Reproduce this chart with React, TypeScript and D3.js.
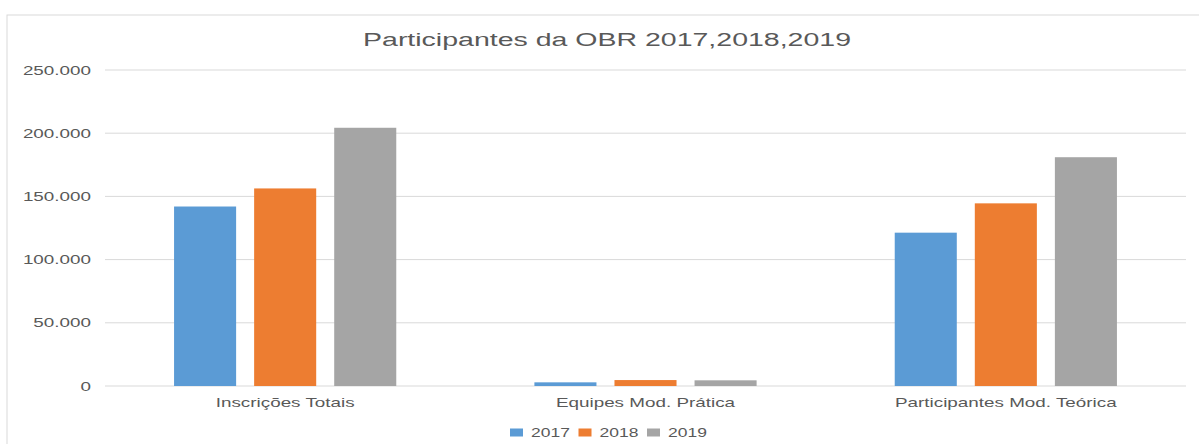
import React from "react";
import * as d3 from "d3";

const categories = ["Inscrições Totais", "Equipes Mod. Prática", "Participantes Mod. Teórica"];
const seriesNames = ["2017", "2018", "2019"];
const values2017 = [142000, 2900, 121300];
const values2018 = [156300, 4700, 144500];
const values2019 = [204300, 4500, 181000];
const yTicks = [0, 50000, 100000, 150000, 200000, 250000];
const title = "Participantes da OBR 2017,2018,2019";

const colors = ["#5B9BD5", "#ED7D31", "#A5A5A5"];
const W = 1199;
const H = 444;
const SX = 1.45; // horizontal stretch of text
const FONT = "'Liberation Sans', Arial, sans-serif";
const TEXT = "#595959";

const locale = d3.formatLocale({ decimal: ",", thousands: ".", grouping: [3], currency: ["", ""] });
const fmt = locale.format(",d");

function SText({ x, y, anchor, size, sx = SX, children }: any) {
  return (
    <text
      transform={`translate(${x},${y}) scale(${sx},1)`}
      textAnchor={anchor}
      fontSize={size}
      fontFamily={FONT}
      fill={TEXT}
    >
      {children}
    </text>
  );
}

export default function App() {
  const series = [values2017, values2018, values2019];
  const x0 = d3.scaleBand<string>().domain(categories).range([105, 1186]).padding(0);
  const x1 = d3
    .scaleBand<string>()
    .domain(seriesNames)
    .range([0, x0.bandwidth()])
    .paddingInner(0.225)
    .paddingOuter(0.8625);
  const y = d3.scaleLinear().domain([0, 250000]).range([386, 70]);

  const legendStart = 510;
  const legendStep = 68.5;

  return (
    <svg
      width={W}
      height={H}
      style={{ position: "absolute", left: 0, top: 0, display: "block", background: "#fff" }}
    >
      <rect x={7} y={15} width={W + 20} height={H + 20} fill="#fff" stroke="#D9D9D9" strokeWidth={1} />
      <SText x={607} y={46} anchor="middle" size={19} sx={1.5}>
        {title}
      </SText>
      {yTicks.map((t) => (
        <g key={t}>
          <line x1={105} x2={1186} y1={y(t)} y2={y(t)} stroke="#D9D9D9" strokeWidth={1} />
          <SText x={91} y={y(t) + 4.5} anchor="end" size={13}>
            {fmt(t)}
          </SText>
        </g>
      ))}
      {categories.map((c, ci) => (
        <g key={c}>
          {seriesNames.map((s, si) => {
            const v = series[si][ci];
            return (
              <rect
                key={s}
                x={(x0(c) as number) + (x1(s) as number)}
                y={y(v)}
                width={x1.bandwidth()}
                height={y(0) - y(v)}
                fill={colors[si]}
              />
            );
          })}
          <SText x={(x0(c) as number) + x0.bandwidth() / 2} y={407} anchor="middle" size={13}>
            {c}
          </SText>
        </g>
      ))}
      {seriesNames.map((s, si) => {
        const lx = legendStart + si * legendStep;
        return (
          <g key={s}>
            <rect x={lx} y={428.5} width={13} height={8} fill={colors[si]} />
            <SText x={lx + 21} y={437} anchor="start" size={12.5} sx={1.4}>
              {s}
            </SText>
          </g>
        );
      })}
    </svg>
  );
}
